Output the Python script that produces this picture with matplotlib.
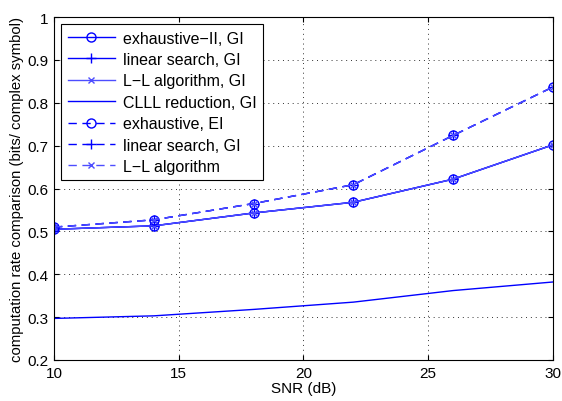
import matplotlib
matplotlib.use('Agg')
import matplotlib.pyplot as plt

plt.rcParams['font.family'] = ['Liberation Sans', 'DejaVu Sans']

snr = [10, 14, 18, 22, 26, 30]
gi_rate = [0.505, 0.513, 0.543, 0.568, 0.622, 0.702]
ei_rate = [0.510, 0.527, 0.565, 0.609, 0.724, 0.837]
clll_rate = [0.297, 0.303, 0.318, 0.335, 0.362, 0.382]

blue = '#0000ff'
light = '#4d4dff'

fig = plt.figure(figsize=(5.62, 4.02), dpi=100)
ax = fig.add_axes([0.096, 0.102, 0.888, 0.853])

ax.plot(snr, gi_rate, '-', color=blue, marker='o', mfc='none', ms=6.5, lw=1, label='exhaustive\u2212II, GI')
ax.plot(snr, gi_rate, '-', color=blue, marker='+', ms=7, lw=1, label='linear search, GI')
ax.plot(snr, gi_rate, '-', color=light, marker='x', ms=5, lw=1, label='L\u2212L algorithm, GI')
ax.plot(snr, clll_rate, '-', color=blue, lw=1, label='CLLL reduction, GI')
ax.plot(snr, ei_rate, '--', color=blue, marker='o', mfc='none', ms=6.5, lw=1, dashes=(6, 4), label='exhaustive, EI')
ax.plot(snr, ei_rate, '--', color=blue, marker='+', ms=7, lw=1, dashes=(6, 4), label='linear search, GI')
ax.plot(snr, ei_rate, '--', color=light, marker='x', ms=5, lw=1, dashes=(6, 4), label='L\u2212L algorithm')

ax.set_xlim(10, 30)
ax.set_ylim(0.2, 1)
ax.set_xticks([10, 15, 20, 25, 30])
ax.set_yticks([0.2, 0.3, 0.4, 0.5, 0.6, 0.7, 0.8, 0.9, 1])
ax.set_yticklabels(['0.2', '0.3', '0.4', '0.5', '0.6', '0.7', '0.8', '0.9', '1'])
ax.grid(True, linestyle=(0, (1, 4)), color='#333333', lw=0.7)
ax.tick_params(direction='in', labelsize=11, top=True, right=True, pad=4)
ax.set_xlabel('SNR (dB)', fontsize=11, labelpad=1)
ax.set_ylabel('computation rate comparison (bits/ complex symbol)', fontsize=10.7, labelpad=2)

leg = ax.legend(loc='upper left', fontsize=11.5, handlelength=3.0, labelspacing=0.4,
                fancybox=False, framealpha=1, edgecolor='black', borderpad=0.4,
                handletextpad=0.45, borderaxespad=0.45)
leg.get_frame().set_linewidth(0.8)

plt.savefig('out.png', dpi=100)
